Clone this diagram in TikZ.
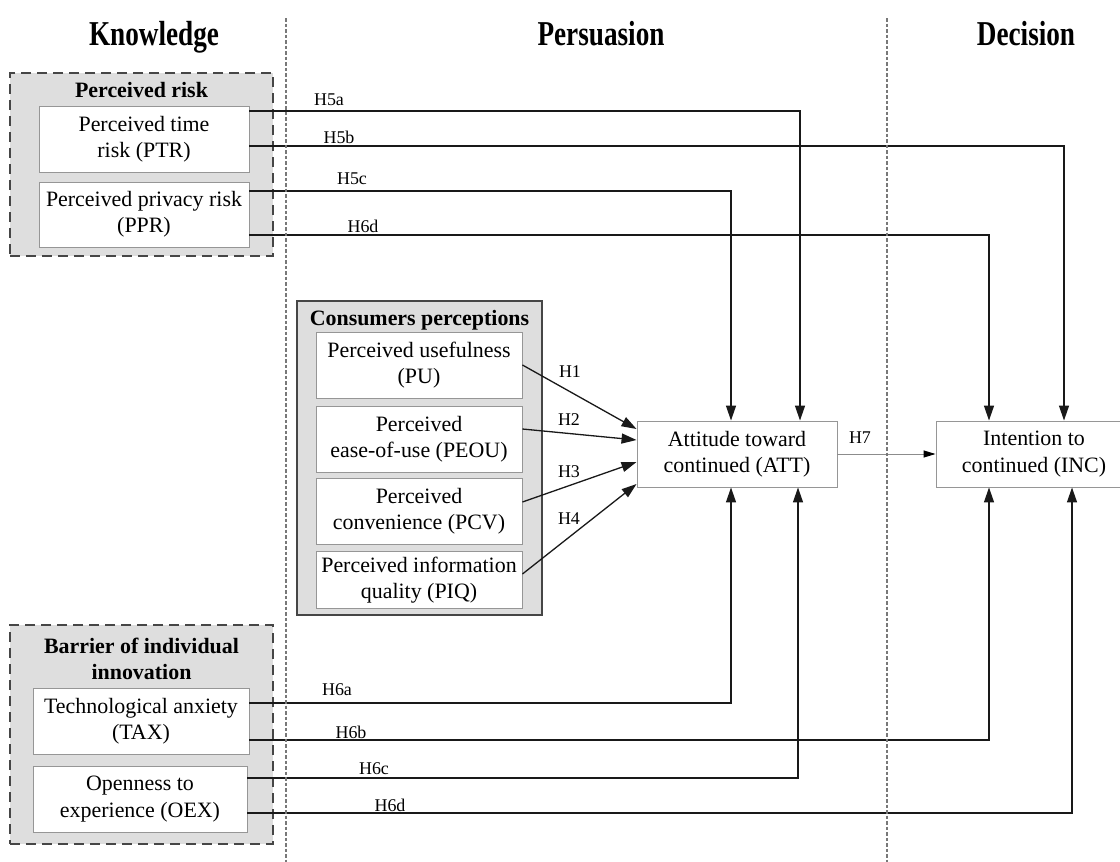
\documentclass[tikz,border=0pt]{standalone}
\usepackage{fontspec}
\setmainfont{Liberation Serif}
\usetikzlibrary{arrows.meta,calc}
\definecolor{grpfill}{RGB}{222,222,222}
\definecolor{grpline}{RGB}{70,70,70}
\definecolor{boxline}{RGB}{150,150,150}
\definecolor{sepcol}{RGB}{120,120,120}
\definecolor{linecol}{RGB}{25,25,25}
\definecolor{h7col}{RGB}{140,140,140}
\newcommand{\bodyfont}{\fontsize{22}{26.5}\selectfont}
\newcommand{\labfont}{\fontsize{18}{20}\selectfont}
\newcommand{\headfont}{\fontsize{35}{40}\selectfont\bfseries}
\tikzset{
  cbox/.style={draw=boxline, line width=0.9bp, fill=white, align=center, inner sep=0pt, font=\bodyfont},
  grp/.style={draw=grpline, line width=1.5bp, dash pattern=on 10bp off 6bp, fill=grpfill, inner sep=0pt},
  grpsolid/.style={draw=grpline, line width=1.5bp, fill=grpfill, inner sep=0pt},
  gtitle/.style={font=\bodyfont\bfseries, align=center, inner sep=0pt},
  conn/.style={draw=linecol, line width=1.3bp, -{Triangle[length=15bp,width=10bp]}},
  hsevenconn/.style={draw=h7col, line width=1bp, -{Triangle[length=12bp,width=7bp,black]}},
  hlab/.style={font=\labfont, inner sep=0pt},
  divider/.style={draw=sepcol, line width=2.8bp, dash pattern=on 3.5bp off 2bp},
  head/.style={font=\headfont, anchor=base, inner sep=0pt},
}
\begin{document}
\begin{tikzpicture}[x=1bp,y=-1bp]
\useasboundingbox (0,0) rectangle (1120,862);

% headers
\node[head] (hK) at (154,45) {\scalebox{0.78}[1]{Knowledge}};
\node[head] (hP) at (601,45) {\scalebox{0.78}[1]{Persuasion}};
\node[head] (hD) at (1026,45) {\scalebox{0.78}[1]{Decision}};

% groups
\node[grp, minimum width=263bp, minimum height=183bp] (PRg) at (141.5,164.5) {};
\node[gtitle, anchor=base] (PRt) at (141.5,97) {Perceived risk};
\node[grpsolid, minimum width=245bp, minimum height=314bp] (CPg) at (419.5,458) {};
\node[gtitle, anchor=base] (CPt) at (419.5,325) {Consumers perceptions};
\node[grp, minimum width=263bp, minimum height=219bp] (BIg) at (141.5,734.5) {};
\node[gtitle] (BIt) at (141.5,659) {Barrier of individual\\innovation};

% boxes
\node[cbox, minimum width=210bp, minimum height=66bp] (PTR) at (144,139) {Perceived time\\risk (PTR)};
\node[cbox, minimum width=210bp, minimum height=65bp] (PPR) at (144,214.5) {Perceived privacy risk\\(PPR)};
\node[cbox, minimum width=206bp, minimum height=66bp] (PU) at (419,365) {Perceived usefulness\\(PU)};
\node[cbox, minimum width=206bp, minimum height=66bp] (PEOU) at (419,439) {Perceived\\ease-of-use (PEOU)};
\node[cbox, minimum width=206bp, minimum height=66bp] (PCV) at (419,511) {Perceived\\convenience (PCV)};
\node[cbox, minimum width=206bp, minimum height=57bp] (PIQ) at (419,580) {Perceived information\\quality (PIQ)};
\node[cbox, minimum width=200bp, minimum height=66bp] (ATT) at (737,454) {Attitude toward\\continued (ATT)};
\node[cbox, minimum width=196bp, minimum height=66bp] (INC) at (1034,454) {Intention to\\continued (INC)};
\node[cbox, minimum width=216bp, minimum height=66bp] (TAX) at (141,721) {Technological anxiety\\(TAX)};
\node[cbox, minimum width=214bp, minimum height=66bp] (OEX) at (140,799) {Openness to\\experience (OEX)};

% bend coordinates
\coordinate (v5a) at (800,111);
\coordinate (v5b) at (1064,146);
\coordinate (v5c) at (731,191);
\coordinate (v6x) at (989,235);
\coordinate (v6a) at (731,703);
\coordinate (v6b) at (989,740);
\coordinate (v6c) at (798,778);
\coordinate (v6d) at (1072,813);

% connectors
\draw[conn] (PTR.east |- v5a) -| (ATT.north -| v5a);
\draw[conn] (PTR.east |- v5b) -| (INC.north -| v5b);
\draw[conn] (PPR.east |- v5c) -| (ATT.north -| v5c);
\draw[conn] (PPR.east |- v6x) -| (INC.north -| v6x);
\draw[conn] (TAX.east |- v6a) -| (ATT.south -| v6a);
\draw[conn] (TAX.east |- v6b) -| (INC.south -| v6b);
\draw[conn] (OEX.east |- v6c) -| (ATT.south -| v6c);
\draw[conn] (OEX.east |- v6d) -| (INC.south -| v6d);

\draw[conn] (PU.east) -- ($(ATT.west)+(0,-25)$);
\draw[conn] ($(PEOU.east)+(0,-10)$) -- ($(ATT.west)+(0,-14)$);
\draw[conn] ($(PCV.east)+(0,-9)$) -- ($(ATT.west)+(0,8)$);
\draw[conn] ($(PIQ.east)+(0,-6)$) -- ($(ATT.west)+(0,30)$);
\draw[hsevenconn] (ATT.east) -- (INC.west);

% dividers
\coordinate (d1t) at (286,18); \coordinate (d1b) at (286,862);
\coordinate (d2t) at (887,18); \coordinate (d2b) at (887,862);
\draw[divider] (d1t) -- (d1b);
\draw[divider] (d2t) -- (d2b);

% labels
\node[hlab] (l5a) at (329,100) {H5a};
\node[hlab] (l5b) at (339,137) {H5b};
\node[hlab] (l5c) at (352,179) {H5c};
\node[hlab] (l6x) at (363,226) {H6d};
\node[hlab] (l1) at (570,372) {H1};
\node[hlab] (l2) at (569,420) {H2};
\node[hlab] (l3) at (569,472) {H3};
\node[hlab] (l4) at (569,519) {H4};
\node[hlab] (l7) at (860,438) {H7};
\node[hlab] (l6a) at (337,690) {H6a};
\node[hlab] (l6b) at (351,732) {H6b};
\node[hlab] (l6c) at (374,769) {H6c};
\node[hlab] (l6d) at (390,805) {H6d};
\end{tikzpicture}
\end{document}
